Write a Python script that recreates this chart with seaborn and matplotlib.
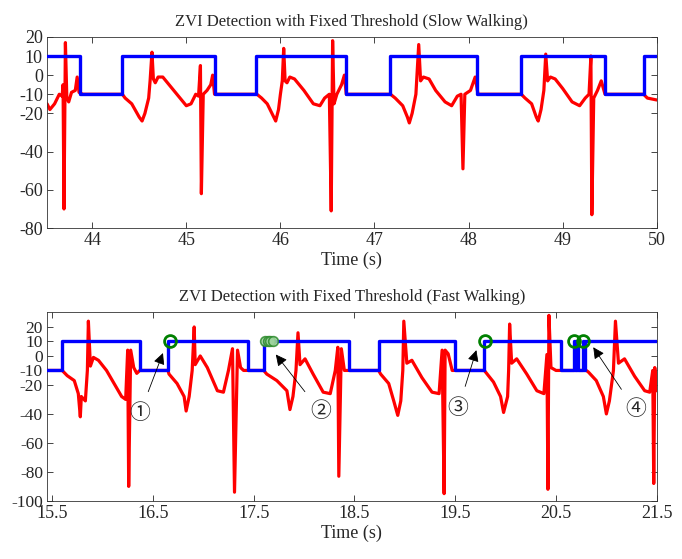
import numpy as np
import pandas as pd
import seaborn as sns
import matplotlib
matplotlib.use("Agg")
import matplotlib.pyplot as plt

sns.set_style("ticks")
plt.rcParams['font.family'] = ['Liberation Serif', 'Noto Sans CJK SC', 'DejaVu Sans']
plt.rcParams['axes.unicode_minus'] = False

# ---- slow walking: red = detector signal, blue = ZVI flag ----
slow_t = [43.52, 43.55, 43.6, 43.65, 43.68, 43.69, 43.70, 43.715, 43.73, 43.75, 43.78, 43.82, 43.84, 43.86, 43.9,
          44.32, 44.35, 44.42, 44.5, 44.53, 44.56, 44.6, 44.615, 44.635, 44.65, 44.67, 44.7, 44.75, 44.8, 44.9,
          45.0, 45.05, 45.1, 45.13, 45.15, 45.16, 45.18, 45.22, 45.26, 45.28, 45.3,
          45.75, 45.8, 45.86, 45.93, 45.95, 45.98, 46.0, 46.02, 46.035, 46.05, 46.07, 46.1, 46.15, 46.25,
          46.35, 46.42, 46.47, 46.52, 46.54, 46.555, 46.57, 46.6, 46.65, 46.68, 46.7,
          47.17, 47.22, 47.3, 47.35, 47.37, 47.4, 47.44, 47.47, 47.49, 47.52, 47.58, 47.65, 47.75, 47.82,
          47.88, 47.92, 47.94, 47.96, 48.02, 48.07, 48.1,
          48.56, 48.6, 48.67, 48.72, 48.74, 48.77, 48.8, 48.82, 48.84, 48.87, 48.92, 49.0, 49.1, 49.18,
          49.24, 49.28, 49.3, 49.31, 49.33, 49.37, 49.41, 49.45, 49.86, 49.9, 50.0]
slow_v = [-15, -18, -15, -10, -11, -5, -70, 17, -12, -14, -9, -8, -1, -9, -10,
          -10, -12, -15, -22, -24, -20, -12, -3, 12, -2, -4, -1, -1, -4, -10,
          -16, -15, -10, -11, 5, -62, -10, -8, -5, 0, -10,
          -10, -12, -15, -22, -24, -18, -10, -3, 14, -3, -4, -1, -2, -8,
          -15, -16, -12, -10, -71, 18, -15, -10, -5, 0, -10,
          -10, -12, -16, -22, -25, -20, -10, 16, -3, -1, -2, -8, -14, -16,
          -11, -10, -49, -10, -8, -1, -10,
          -10, -12, -15, -22, -24, -18, -8, 11, -3, -1, -2, -7, -14, -16,
          -12, -10, 10, -73, -12, -8, -3, -10, -10, -12, -13]
slow_zvi_t = [43.52, 43.865, 44.32, 45.30, 45.745, 46.70, 47.17, 48.09, 48.56, 49.45, 49.86, 50.0]
slow_zvi_v = [10, -10, 10, -10, 10, -10, 10, -10, 10, -10, 10, 10]

# ---- fast walking ----
fast_t = [15.45, 15.6, 15.65, 15.72, 15.76, 15.78, 15.79, 15.83, 15.85, 15.86, 15.88, 15.91, 15.96, 16.04,
          16.14, 16.19, 16.23, 16.25, 16.26, 16.28, 16.31, 16.34, 16.37,
          16.65, 16.66, 16.74, 16.81, 16.83, 16.86, 16.89, 16.91, 16.92, 16.97, 17.04, 17.14, 17.2,
          17.25, 17.29, 17.31, 17.34, 17.37, 17.4,
          17.6, 17.63, 17.73, 17.83, 17.86, 17.89, 17.92, 17.94, 17.96, 18.01, 18.09, 18.19, 18.26,
          18.31, 18.335, 18.345, 18.37, 18.4,
          18.74, 18.76, 18.84, 18.89, 18.93, 18.96, 18.98, 18.99, 19.02, 19.07, 19.17, 19.27, 19.34,
          19.37, 19.39, 19.4, 19.43, 19.47,
          19.79, 19.8, 19.88, 19.95, 19.98, 20.02, 20.03, 20.04, 20.06, 20.11, 20.21, 20.31, 20.38,
          20.41, 20.42, 20.43, 20.45, 20.5,
          20.8, 20.82, 20.9, 20.97, 21.0, 21.03, 21.07, 21.09, 21.12, 21.18, 21.28, 21.38, 21.43,
          21.46, 21.47, 21.48, 21.5]
fast_v = [-10, -10, -13.6, -17, -26, -42, -28, -31, -10, 24, -7, -1, -3, -10,
          -22, -28, -30, 4, -90, 4, -8, -12, -10,
          -10, -12.5, -19, -28, -38, -28, -10, 20, -6, 0, -8, -24, -25,
          -10, 5, -94, 4, -8, -10,
          -10, -12.5, -17, -24, -37, -28, -10, 16, -6, -2, -12.5, -25, -26,
          -10, 6, -83, 5, -10,
          -10, -12.5, -19, -31, -41, -31, -10, 24, -5, -3, -15, -25, -26,
          4, -95, 4, 1.5, -10,
          -10, -11, -18, -28, -39, -28, -10, 22, -5, -2, -12.5, -24, -26,
          1, -92, 28, -8, -10,
          -10, -11, -17, -28, -40, -31, -10, 24, -5, -2, -14, -24, -25,
          -10, -88, -8, -24]
fast_zvi_t = [15.45, 15.6, 16.37, 16.65, 17.44, 17.60, 18.45, 18.74, 19.50, 19.79, 20.55,
              20.675, 20.69, 20.71, 20.72, 20.765, 20.775, 20.785, 21.5]
fast_zvi_v = [-10, 10, -10, 10, -10, 10, -10, 10, -10, 10, -10,
              10, -10, 10, -10, 10, -10, 10, 10]
miss_t = [16.67, 19.80, 20.68, 20.77]
miss_v = [10, 10, 10, 10]
cluster_t = [17.615, 17.64, 17.665, 17.69]
cluster_v = [10, 10, 10, 10]

labels = ['①', '②', '③', '④']
label_xy = [(16.37, -40), (18.17, -39), (19.53, -36.5), (21.29, -37.7)]
arrow_xy = [(16.60, 2), (17.72, 1), (19.71, 4), (20.87, 6)]

fig = plt.figure(figsize=(6.82, 5.59), dpi=100)
ax1 = fig.add_axes([0.069, 0.592, 0.894, 0.342])
ax2 = fig.add_axes([0.069, 0.104, 0.894, 0.337])

def draw(ax, t, v, zt, zv):
    sns.lineplot(x=t, y=v, ax=ax, color='#ff0000', lw=2.3, estimator=None, sort=False, zorder=2)
    sns.lineplot(x=zt, y=zv, ax=ax, color='#0000ff', lw=2.4, estimator=None, sort=False,
                 drawstyle='steps-post', zorder=3)

draw(ax1, slow_t, slow_v, slow_zvi_t, slow_zvi_v)
draw(ax2, fast_t, fast_v, fast_zvi_t, fast_zvi_v)
ax2.plot(miss_t, miss_v, 'o', mfc='none', mec='#008000', mew=2, ms=8.5, zorder=4)
ax2.plot(cluster_t, cluster_v, 'o', mfc='#9fd49f', mec='#2e8b2e', mew=1.2, ms=7, alpha=0.85, zorder=4)

for lab, p, a in zip(labels, label_xy, arrow_xy):
    ax2.annotate(lab, xy=a, xytext=p, ha='center', va='center', fontsize=15,
                 arrowprops=dict(arrowstyle='-|>', color='k', lw=0.6, mutation_scale=17,
                                 shrinkA=7, shrinkB=0))

ax1.set_xlim(43.52, 50)
ax1.set_ylim(-80, 20)
ax1.set_yticks([20, 10, 0, -10, -20, -40, -60, -80])
ax1.set_xticks([44, 45, 46, 47, 48, 49, 50])
ax1.set_title('ZVI Detection with Fixed Threshold (Slow Walking)', fontsize=12, pad=8)

ax2.set_xlim(15.45, 21.5)
ax2.set_ylim(-100, 30)
ax2.set_yticks([20, 10, 0, -10, -20, -40, -60, -80, -100])
ax2.set_xticks([15.5, 16.5, 17.5, 18.5, 19.5, 20.5, 21.5])
ax2.set_title('ZVI Detection with Fixed Threshold (Fast Walking)', fontsize=12, pad=8)

for ax in (ax1, ax2):
    ax.set_xlabel('Time (s)', fontsize=13, labelpad=2)
    ax.set_ylabel('')
    ax.tick_params(direction='in', top=True, right=True, labelsize=13, length=4, width=0.6, pad=3)
    for s in ax.spines.values():
        s.set_linewidth(0.6)
        s.set_color('#333333')
ax2.tick_params(axis='y', labelsize=12.5)

fig.savefig('out.png', dpi=100)
